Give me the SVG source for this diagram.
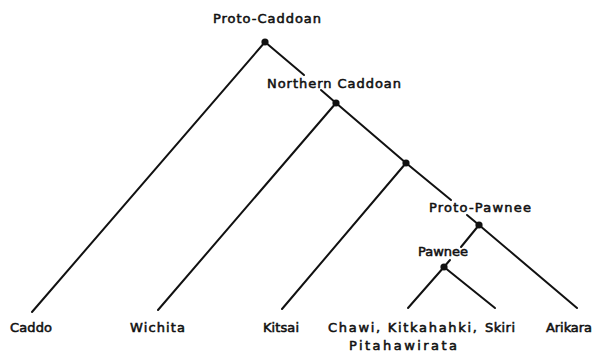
<svg xmlns="http://www.w3.org/2000/svg" width="601" height="353" viewBox="0 0 601 353">
  <style>
    .lbl { font-family: "DejaVu Sans", "Liberation Sans", sans-serif; font-size: 13px; fill: #111; stroke: #111; stroke-width: 0.55; }
    .edge { stroke: #111; stroke-width: 2; stroke-linecap: round; fill: none; }
    .dot { fill: #111; }
  </style>

  <!-- connectors -->
  <g id="connectors">
    <line class="edge" x1="265" y1="42" x2="32" y2="312"/>
    <line class="edge" x1="265" y1="42" x2="304" y2="75"/>
    <line class="edge" x1="321" y1="90" x2="336" y2="103"/>
    <line class="edge" x1="336" y1="103" x2="158" y2="310"/>
    <line class="edge" x1="336" y1="103" x2="406" y2="163"/>
    <line class="edge" x1="406" y1="163" x2="282" y2="309"/>
    <line class="edge" x1="406" y1="163" x2="451" y2="200"/>
    <line class="edge" x1="467" y1="215" x2="479" y2="225"/>
    <line class="edge" x1="479" y1="225" x2="577" y2="308"/>
    <line class="edge" x1="479" y1="225" x2="461" y2="247"/>
    <line class="edge" x1="450" y1="260" x2="444" y2="267"/>
    <line class="edge" x1="444" y1="267" x2="408" y2="308"/>
    <line class="edge" x1="444" y1="267" x2="495" y2="308"/>
  </g>

  <!-- interior nodes -->
  <g id="proto-caddoan">
    <circle class="dot" cx="265" cy="42" r="3.6"/>
    <text class="lbl" x="213" y="23" textLength="108" lengthAdjust="spacing">Proto-Caddoan</text>
  </g>
  <g id="northern-caddoan">
    <circle class="dot" cx="336" cy="103" r="3.6"/>
    <text class="lbl" x="267" y="88" textLength="134" lengthAdjust="spacing">Northern Caddoan</text>
  </g>
  <g id="split-kitsai">
    <circle class="dot" cx="406" cy="163" r="3.6"/>
  </g>
  <g id="proto-pawnee">
    <circle class="dot" cx="479" cy="225" r="3.6"/>
    <text class="lbl" x="429" y="212" textLength="102" lengthAdjust="spacing">Proto-Pawnee</text>
  </g>
  <g id="pawnee">
    <circle class="dot" cx="444" cy="267" r="3.6"/>
    <text class="lbl" x="418" y="256" textLength="50" lengthAdjust="spacing">Pawnee</text>
  </g>

  <!-- leaves -->
  <g id="caddo">
    <text class="lbl" x="10" y="332" textLength="42" lengthAdjust="spacing">Caddo</text>
  </g>
  <g id="wichita">
    <text class="lbl" x="130" y="332" textLength="55" lengthAdjust="spacing">Wichita</text>
  </g>
  <g id="kitsai">
    <text class="lbl" x="263" y="332" textLength="36" lengthAdjust="spacing">Kitsai</text>
  </g>
  <g id="chawi-kitkahahki-pitahawirata">
    <text class="lbl" x="328" y="332" textLength="149" lengthAdjust="spacing">Chawi, Kitkahahki,</text>
    <text class="lbl" x="349" y="350" textLength="108" lengthAdjust="spacing">Pitahawirata</text>
  </g>
  <g id="skiri">
    <text class="lbl" x="485" y="332" textLength="30" lengthAdjust="spacing">Skiri</text>
  </g>
  <g id="arikara">
    <text class="lbl" x="546" y="332" textLength="46" lengthAdjust="spacing">Arikara</text>
  </g>
</svg>
